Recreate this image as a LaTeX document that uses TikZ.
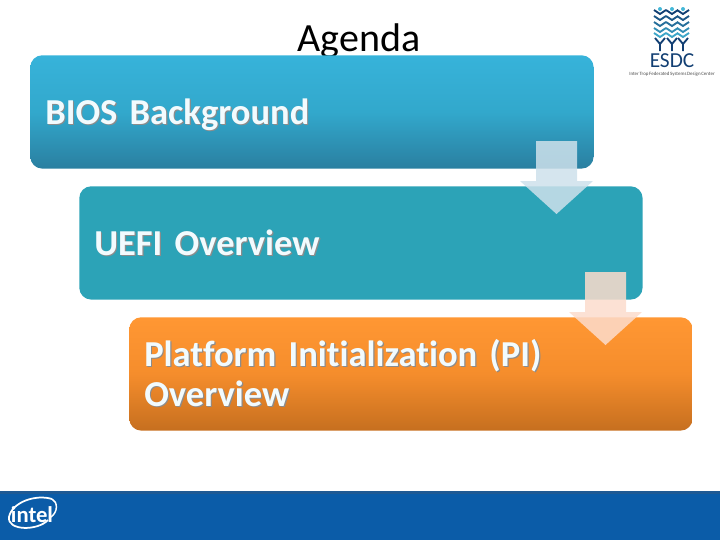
\documentclass[tikz,border=0pt]{standalone}
\usepackage{fontspec}
\setmainfont[WordSpace=0.65,Ligatures=NoCommon]{Carlito}
\definecolor{bluetop}{HTML}{37B3DA}
\definecolor{bluemid}{HTML}{32A8CC}
\definecolor{bluebot}{HTML}{2A7FA0}
\definecolor{tealbox}{HTML}{2CA3B7}
\definecolor{orangetop}{HTML}{FF9733}
\definecolor{orangemid}{HTML}{F58D2C}
\definecolor{orangebot}{HTML}{C66F1F}
\definecolor{footerblue}{HTML}{0B5CA8}
\definecolor{footertop}{HTML}{1F5A94}
\definecolor{wheatlight}{HTML}{45B8D8}
\definecolor{wheatdark}{HTML}{123F73}
\newcommand{\shtext}[1]{\leavevmode\rlap{\kern0.9pt\raisebox{-0.9pt}{\color{black!45}#1}}\textcolor{white!95!cyan}{#1}}
\tikzset{
  agendabox/.style={rounded corners=9pt,minimum width=422.5pt,minimum height=85pt,
    anchor=north west,inner xsep=11pt,text width=400pt,align=left,
    font=\fontsize{27.4}{30}\selectfont\bfseries},
  downarrow/.pic={
    \fill[fill opacity=0.85,pic actions] (0,0) -- (-36.5,-33) -- (-20.5,-33) -- (-20.5,-73)
        -- (20.5,-73) -- (20.5,-33) -- (36.5,-33) -- cycle;
  },
}
\begin{document}
\begin{tikzpicture}[x=0.75pt,y=-0.75pt]
    \useasboundingbox (0,0) rectangle (720,540);
    \node[font=\fontsize{30}{32}\selectfont] (title) at (359,41) {Agenda};
    \node[agendabox,text depth=0pt,top color=bluetop,bottom color=bluebot,middle color=bluemid] (bios) at (30,55) {\shtext{BIOS Background}};
    \node[agendabox,fill=tealbox] (uefi) at (79,186) {\shtext{UEFI Overview}};
    \node[agendabox,top color=orangetop,bottom color=orangebot,middle color=orangemid] (pi) at (129,317)
        {\shtext{Platform Initialization (PI)}\\\shtext{Overview}};
    \coordinate (tipa) at (556.5,214);
    \coordinate (tipb) at (605.5,345);
    \pic[fill={rgb,255:red,206;green,225;blue,235}] at (tipa) {downarrow};
    \pic[fill={rgb,255:red,252;green,220;blue,204}] at (tipb) {downarrow};
    % footer
    \fill[footerblue] (0,491) rectangle (720,540);
    \fill[footertop] (0,491) rectangle (720,494);
    \node[text=white,font=\fontsize{17}{20}\selectfont\bfseries] (intel) at (32,515) {intel};
    \draw[white,line width=1.3pt] (52,499) .. controls (36,494) and (12,502) .. (9,517) .. controls (7,531) and (38,531) .. (48,520);
    \draw[white,line width=1.1pt] (52,499) .. controls (58,502) and (58,512) .. (51,517);
    % logo
    \foreach \x in {660,672,683}{
        \foreach \y/\m in {14/100,20/80,26/60,32/35,37/15}{
            \draw[wheatdark!\m!wheatlight,line width=1.4pt] (\x-6,\y-4) -- (\x,\y) -- (\x+6,\y-4);
        }
        \fill[wheatlight] (\x,9) circle (2);
        \draw[wheatdark,line width=1.4pt] (\x-5,38) -- (\x,44) -- (\x+5,38) (\x,44) -- (\x,51);
    }
    \node[text=wheatdark,font=\fontsize{16}{16}\selectfont] (esdc) at (672,61) {ESDC};
    \node[text=black!70,font=\fontsize{3.7}{4}\selectfont] (esdcname) at (672,74) {Inter Trop Federated Systems Design Center};
\end{tikzpicture}
\end{document}
